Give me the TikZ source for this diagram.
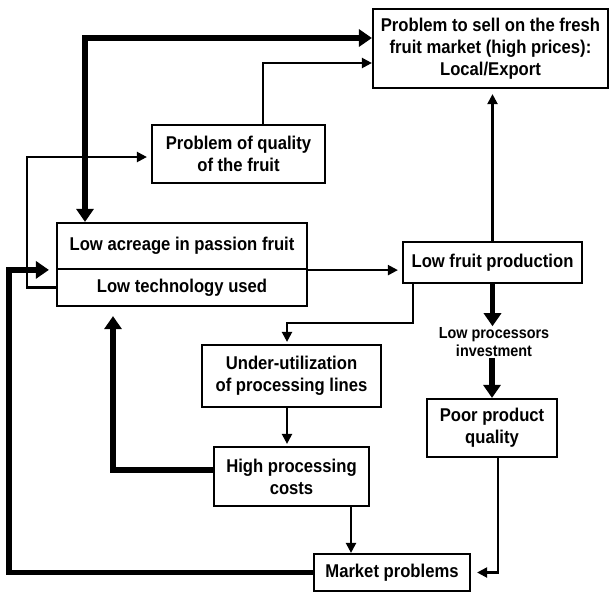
\documentclass[tikz,border=0pt]{standalone}
\usepackage{fontspec}
\setmainfont[FakeStretch=0.9]{Liberation Sans}
\usetikzlibrary{arrows.meta}
\tikzset{
  box/.style={draw, line width=2.2pt, inner sep=0pt, align=center,
    font=\fontsize{18.5}{22}\selectfont\bfseries},
  lbl/.style={inner sep=1pt, align=center,
    font=\fontsize{16}{18}\selectfont\bfseries},
  conn/.style={line width=2.2pt, -{Triangle[length=10pt,width=10pt]}},
  thickconn/.style={line width=5.5pt, -{Triangle[length=13pt,width=17pt]}},
}
\begin{document}
\begin{tikzpicture}[x=1pt,y=-1pt]
\useasboundingbox (0,0) rectangle (609,592);
% boxes
\node[box, minimum width=235pt, minimum height=79pt] (sell) at (490.5,48.5)
  {Problem to sell on the fresh\\fruit market (high prices):\\Local/Export};
\node[box, minimum width=173pt, minimum height=58pt] (quality) at (238.5,154)
  {Problem of quality\\of the fruit};
\node[box, minimum width=250pt, minimum height=46pt] (acreage) at (182,246)
  {Low acreage in passion fruit};
\node[box, minimum width=250pt, minimum height=37pt] (tech) at (182,287.5)
  {Low technology used};
\node[box, minimum width=179pt, minimum height=41pt] (lfp) at (492.5,262.5)
  {Low fruit production};
\node[lbl] (lpi) at (494,342) {Low processors\\investment};
\node[box, minimum width=179pt, minimum height=62pt] (uu) at (291.5,376)
  {Under-utilization\\of processing lines};
\node[box, minimum width=130pt, minimum height=58pt] (ppq) at (492,428)
  {Poor product\\quality};
\node[box, minimum width=155pt, minimum height=59pt] (hpc) at (291.5,476.5)
  {High processing\\costs};
\node[box, minimum width=156pt, minimum height=37pt] (mp) at (392,572.5)
  {Market problems};
% connectors
\draw[thickconn, {Triangle[length=13pt,width=17pt]}-{Triangle[length=13pt,width=17pt]}]
  ([xshift=-97pt]acreage.north) |- ([yshift=10.5pt]sell.west);
\draw[conn] ([xshift=24.5pt]quality.north) |- ([yshift=-14.5pt]sell.west);
\draw[conn, shorten >=4pt] (tech.west) -- ++(-29,0) |- ([yshift=-3pt]quality.west);
\draw[conn, shorten >=4pt] (acreage.south east) -- (acreage.south east -| lfp.west);
\draw[conn, shorten >=5pt] (lfp.north) -- (lfp.north |- sell.south);
\draw[conn, shorten >=2pt] ([xshift=-79.5pt]lfp.south) -- ++(0,39) -| ([xshift=-4.5pt]uu.north);
\draw[thickconn] (lfp.south) -- (lfp.south |- lpi.north);
\draw[thickconn] (ppq.north |- lpi.south) -- (ppq.north);
\draw[conn, shorten >=2pt] ([xshift=-4.5pt]uu.south) -- ([xshift=-4.5pt]hpc.north);
\draw[thickconn, shorten >=9pt] ([yshift=6.5pt]hpc.west) -| ([xshift=-69pt]tech.south);
\draw[conn] ([xshift=59.5pt]hpc.south) -- ([xshift=59.5pt]hpc.south |- mp.north);
\draw[conn, shorten >=6pt] ([xshift=6pt]ppq.south) |- (mp.east);
\draw[thickconn, shorten >=7pt] (mp.west) -- ++(-304,0) |- ([yshift=-2pt]tech.north west);
\end{tikzpicture}
\end{document}
